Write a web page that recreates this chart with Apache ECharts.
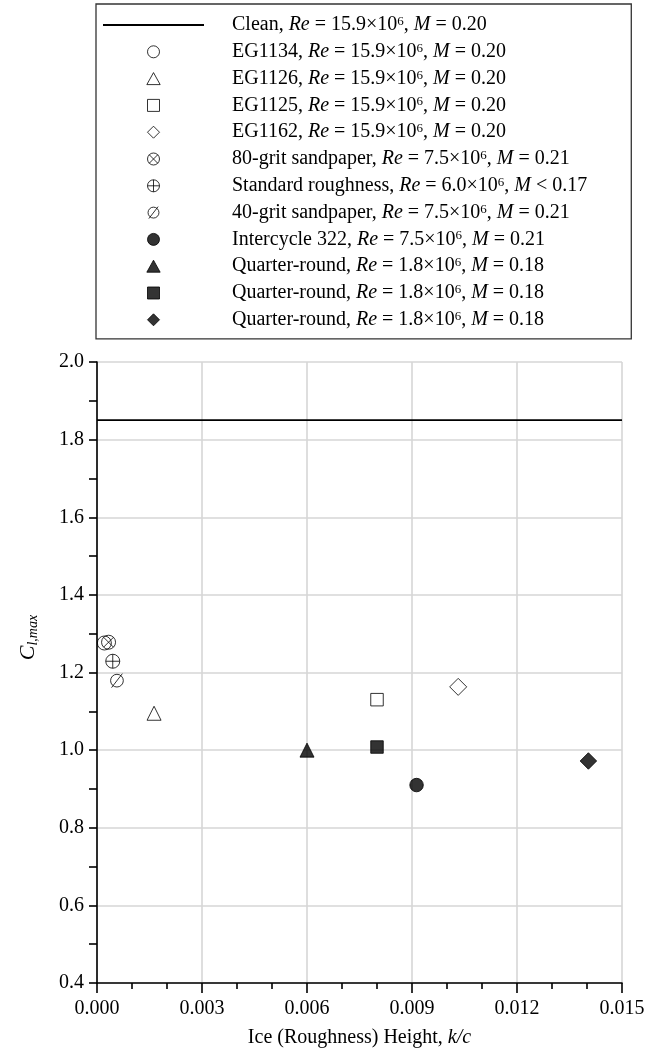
<!DOCTYPE html>
<html>
<head>
<meta charset="utf-8">
<script src="https://cdn.jsdelivr.net/npm/echarts@6/dist/echarts.min.js"></script>
<style>
html,body{margin:0;padding:0;background:#fff;}
#chart{width:663px;height:1053px;}
</style>
</head>
<body>
<div id="chart"></div>
<script>
// ---- data ----
const seriesNames = ['Clean', 'EG1134', 'EG1126', 'EG1125', 'EG1162', '80-grit sandpaper', 'Standard roughness', '40-grit sandpaper', 'Intercycle 322', 'Quarter-round', 'Quarter-round', 'Quarter-round'];
const reynolds = ['15.9', '15.9', '15.9', '15.9', '15.9', '7.5', '6.0', '7.5', '7.5', '1.8', '1.8', '1.8'];
const machOp = ['=', '=', '=', '=', '=', '=', '<', '=', '=', '=', '=', '='];
const mach = ['0.20', '0.20', '0.20', '0.20', '0.20', '0.21', '0.17', '0.21', '0.21', '0.18', '0.18', '0.18'];
const cleanK = [0, 0.015];
const cleanCl = [1.85, 1.85];
// scatter points, in legend order (after Clean)
const pointK = [0.00021, 0.00163, 0.0080, 0.01032, 0.00033, 0.00045, 0.00057, 0.00913, 0.0060, 0.0080, 0.01404];
const pointCl = [1.276, 1.095, 1.130, 1.163, 1.278, 1.229, 1.179, 0.910, 1.000, 1.008, 0.972];
const xTicks = [0, 0.003, 0.006, 0.009, 0.012, 0.015];
const yTicks = [0.4, 0.6, 0.8, 1.0, 1.2, 1.4, 1.6, 1.8, 2.0];

// ---- styling ----
const FONT = '"Liberation Serif", "Times New Roman", serif';
const circ = 'M0 10 A10 10 0 1 1 20 10 A10 10 0 1 1 0 10 Z';
const P = {
  circle: 'path://' + circ,
  triangle: 'path://M10 0 L20 18 L0 18 Z',
  rect: 'path://M0 0 L20 0 L20 20 L0 20 Z',
  diamond: 'path://M10 0 L20 10 L10 20 L0 10 Z',
  otimes: 'path://' + circ + ' M2.93 2.93 L17.07 17.07 M17.07 2.93 L2.93 17.07',
  oplus: 'path://' + circ + ' M10 0 L10 20 M0 10 L20 10',
  oslash: 'path://' + circ + ' M1.5 21 L18.5 -1'
};
const symbols = ['circle', 'triangle', 'rect', 'diamond', P.otimes, P.oplus, P.oslash, 'circle', 'triangle', 'rect', 'diamond'];
const legendIcons = [P.circle, P.triangle, P.rect, P.diamond, P.otimes, P.oplus, P.oslash, P.circle, P.triangle, P.rect, P.diamond];
const filled = [false, false, false, false, false, false, false, true, true, true, true];
const sizes = [14, 14, 12.5, 17, 14, 14, 14, 13.5, 14, 12.5, 16.5];

const keys = seriesNames.map((n, i) => 's' + i);
function labelFor(i) {
  return seriesNames[i] + ', {i|Re} = ' + reynolds[i] + '×10{sup|6}, {i|M} ' + machOp[i] + ' ' + mach[i];
}

const series = [{
  name: keys[0],
  type: 'line',
  data: cleanK.map((k, j) => [k, cleanCl[j]]),
  symbol: 'none',
  lineStyle: { color: '#000', width: 1.8 },
  itemStyle: { color: '#000' },
  silent: true,
  z: 3
}];
pointK.forEach((k, j) => {
  series.push({
    name: keys[j + 1],
    type: 'scatter',
    data: [[k, pointCl[j]]],
    symbol: symbols[j],
    symbolSize: sizes[j],
    symbolKeepAspect: true,
    itemStyle: {
      color: filled[j] ? '#000' : 'rgba(255,255,255,0)',
      borderColor: '#000',
      borderWidth: 1
    },
    z: 4
  });
});

const legendData = keys.map((k, i) => i === 0
  ? { name: k, itemStyle: { color: 'rgba(0,0,0,0)', borderColor: 'rgba(0,0,0,0)', borderWidth: 0 } }
  : { name: k, icon: legendIcons[i - 1], symbolKeepAspect: true });

const option = {
  backgroundColor: '#fff',
  animation: false,
  textStyle: { fontFamily: FONT, color: '#000' },
  grid: { left: 97, right: 41, top: 362, bottom: 69, containLabel: false },
  legend: {
    orient: 'vertical',
    left: 96,
    top: 4,
    padding: [11, 44, 9, 6],
    itemGap: 6.8,
    itemWidth: 101,
    itemHeight: 12,
    symbolKeepAspect: true,
    borderColor: '#333',
    borderWidth: 1.3,
    selectedMode: false,
    data: legendData,
    itemStyle: { borderWidth: 1 },
    formatter: function (name) { return labelFor(keys.indexOf(name)); },
    textStyle: {
      fontFamily: FONT, fontSize: 20, color: '#000', lineHeight: 20,
      padding: [0, 0, 0, 23],
      rich: {
        i: { fontFamily: FONT, fontStyle: 'italic', fontSize: 20, lineHeight: 20, color: '#000' },
        sup: { fontFamily: FONT, fontSize: 13, lineHeight: 10, verticalAlign: 'top', color: '#000' }
      }
    }
  },
  xAxis: {
    type: 'value',
    min: xTicks[0],
    max: xTicks[xTicks.length - 1],
    interval: xTicks[1] - xTicks[0],
    name: 'Ice (Roughness) Height, {i|k/c}',
    nameLocation: 'middle',
    nameGap: 45,
    nameTextStyle: {
      fontFamily: FONT, fontSize: 20, color: '#000',
      rich: { i: { fontFamily: FONT, fontStyle: 'italic', fontSize: 20, color: '#000' } }
    },
    axisLine: { show: true, onZero: false, lineStyle: { color: '#000', width: 1.6 } },
    axisTick: { show: true, inside: false, length: 10, lineStyle: { color: '#000', width: 1.6 } },
    minorTick: { show: true, splitNumber: 3, length: 6, lineStyle: { color: '#000', width: 1.6 } },
    axisLabel: { fontFamily: FONT, fontSize: 20, color: '#000', margin: 16, formatter: v => v.toFixed(3) },
    splitLine: { show: true, lineStyle: { color: '#d6d6d6', width: 1.6 } }
  },
  yAxis: {
    type: 'value',
    min: yTicks[0],
    max: yTicks[yTicks.length - 1],
    interval: 0.2,
    name: '{c|C}{sub|l,max}',
    nameLocation: 'middle',
    nameRotate: 90,
    nameGap: 57,
    nameTextStyle: {
      fontFamily: FONT, color: '#000',
      padding: [0, 0, 0, 70],
      rich: {
        c: { fontFamily: FONT, fontStyle: 'italic', fontSize: 22, lineHeight: 24, color: '#000' },
        sub: { fontFamily: FONT, fontStyle: 'italic', fontSize: 14, lineHeight: 12, verticalAlign: 'bottom', color: '#000' }
      }
    },
    axisLine: { show: true, onZero: false, lineStyle: { color: '#000', width: 1.6 } },
    axisTick: { show: true, inside: false, length: 8, lineStyle: { color: '#000', width: 1.6 } },
    minorTick: { show: true, splitNumber: 2, length: 8, lineStyle: { color: '#000', width: 1.6 } },
    axisLabel: { fontFamily: FONT, fontSize: 20, color: '#000', margin: 13, formatter: v => v.toFixed(1) },
    splitLine: { show: true, lineStyle: { color: '#d6d6d6', width: 1.6 } }
  },
  series: series
};

const chart = echarts.init(document.getElementById('chart'), null, { renderer: 'canvas' });
chart.setOption(option);
</script>
</body>
</html>
